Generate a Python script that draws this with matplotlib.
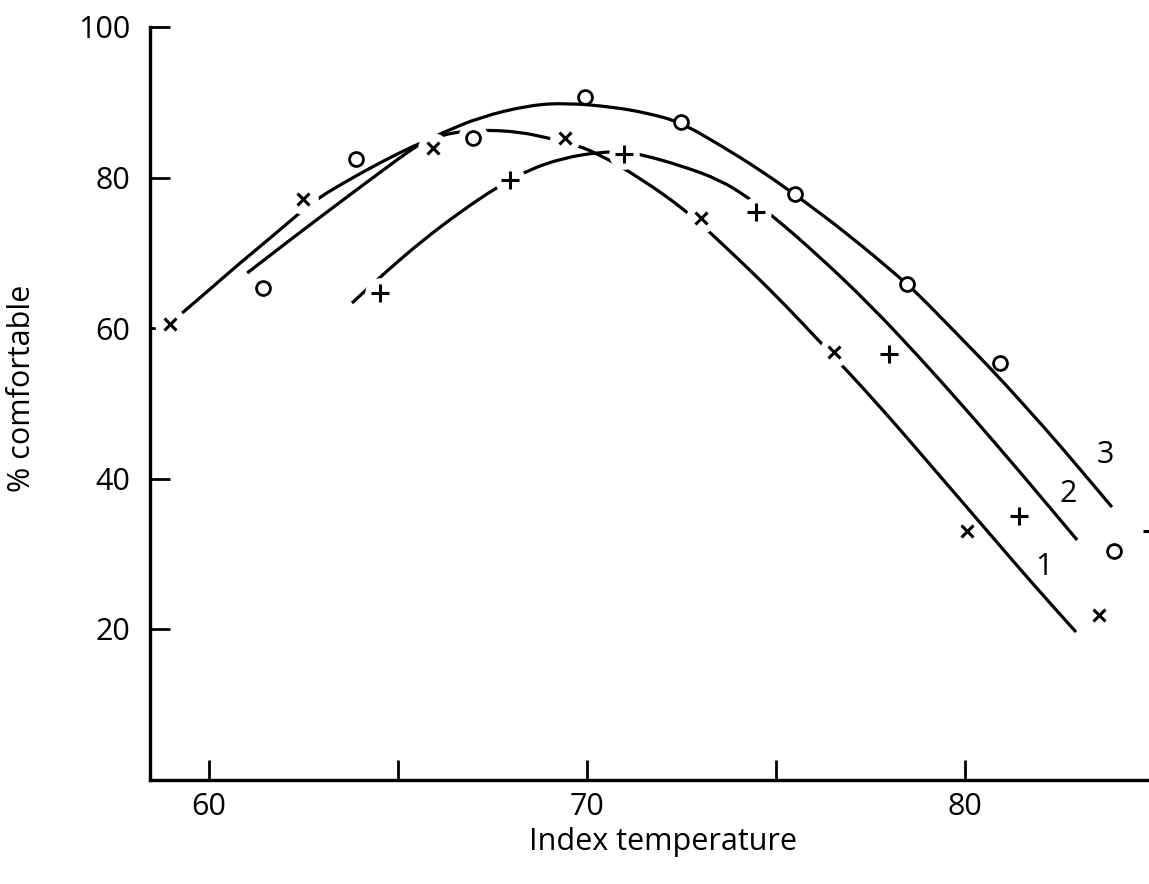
import numpy as np
import matplotlib
matplotlib.use('Agg')
import matplotlib.pyplot as plt
from matplotlib.path import Path
from matplotlib.patches import PathPatch

plt.rcParams['font.family'] = ['Open Sans', 'DejaVu Sans']

# puntos observados (x = temperatura indice, y = % comfortable)
cross_x = [58.98, 62.50, 65.93, 69.42, 73.02, 76.53, 80.05, 83.54]
cross_y = [60.53, 77.14, 83.92, 85.25, 74.62, 56.81, 33.02, 21.86]

plus_x = [64.53, 67.97, 70.98, 74.47, 77.99, 81.43, 84.94]
plus_y = [64.65, 79.67, 83.12, 75.42, 56.54, 35.02, 33.02]

circ_x = [61.44, 63.90, 66.99, 69.95, 72.49, 75.50, 78.46, 80.92, 83.93]
circ_y = [65.32, 82.46, 85.25, 90.70, 87.38, 77.81, 65.85, 55.35, 30.37]

# curvas dibujadas a mano
curve1_x = [59.30, 60.07, 60.83, 61.63, 62.37, 62.90, 63.61, 64.27, 64.93, 65.59,
            66.17, 66.78, 67.36, 68.23, 68.97, 69.55, 70.27, 71.41, 72.60, 73.24,
            74.31, 75.24, 76.19, 77.67, 79.15, 80.63, 81.79, 82.93]
curve1_y = [61.99, 65.31, 68.64, 71.96, 75.15, 77.28, 79.40, 81.26, 82.99, 84.58,
            85.65, 86.18, 86.31, 86.05, 85.25, 84.58, 83.26, 79.93, 75.68, 72.76,
            67.71, 63.06, 58.01, 50.03, 41.40, 32.76, 25.98, 19.60]

curve2_x = [63.79, 64.74, 65.67, 66.65, 67.63, 68.45, 69.37, 70.35, 71.01, 71.49,
            72.52, 73.52, 74.24, 74.92, 76.16, 77.49, 78.81, 80.13, 81.45, 82.96]
curve2_y = [63.32, 67.71, 71.69, 75.42, 78.74, 81.00, 82.59, 83.39, 83.39, 82.99,
            81.53, 79.67, 77.41, 74.88, 69.44, 63.06, 56.01, 48.57, 40.86, 31.83]

curve3_x = [61.02, 62.15, 63.13, 64.40, 65.59, 66.17, 67.18, 68.50, 69.48, 70.69,
            71.59, 72.46, 73.52, 74.58, 75.63, 76.96, 78.25, 78.70, 79.76, 80.84,
            81.72, 82.43, 83.88]
curve3_y = [67.31, 71.69, 75.42, 80.20, 84.58, 85.91, 88.04, 89.63, 89.90, 89.37,
            88.57, 87.38, 84.32, 81.00, 77.28, 72.23, 66.78, 64.78, 59.34, 53.75,
            48.84, 44.85, 36.21]

curve_labels = ['1', '2', '3']
label_x = [82.09, 82.72, 83.70]
label_y = [28.24, 37.94, 43.10]

x_ticks = [60, 65, 70, 75, 80]
x_ticklabels = ['60', '', '70', '', '80']
y_ticks = [20, 40, 60, 80, 100]

# puntos que cortan la curva que pasa por ellos
cross_gap = [0, 1, 2, 3, 4, 5, 7]
plus_gap = [0, 1, 2, 3, 4, 5, 6]
circ_gap = [2]


def smooth_path(xs, ys):
    # curva suave: los puntos leidos hacen de puntos de control (bezier cuadratica)
    pts = np.column_stack([xs, ys])
    mids = (pts[:-1] + pts[1:]) / 2
    verts = [pts[0], mids[0]]
    codes = [Path.MOVETO, Path.LINETO]
    for i in range(1, len(pts) - 1):
        verts += [pts[i], mids[i]]
        codes += [Path.CURVE3, Path.CURVE3]
    verts.append(pts[-1])
    codes.append(Path.LINETO)
    return Path(verts, codes)


fig = plt.figure(figsize=(11.49, 8.84), dpi=100)
ax = fig.add_axes([150 / 1149, (884 - 779.5) / 884, 1 - 150 / 1149, (779.5 - 27) / 884])

for cx, cy in [(curve1_x, curve1_y), (curve2_x, curve2_y), (curve3_x, curve3_y)]:
    ax.add_patch(PathPatch(smooth_path(cx, cy), facecolor='none', edgecolor='black',
                           lw=2.3, capstyle='butt', zorder=1))

# huecos blancos alrededor de los puntos
halo = dict(marker='o', ms=22, color='white', mec='none', ls='none', zorder=2)
ax.plot([cross_x[i] for i in cross_gap], [cross_y[i] for i in cross_gap], **halo)
ax.plot([plus_x[i] for i in plus_gap], [plus_y[i] for i in plus_gap], **halo)
ax.plot([circ_x[i] for i in circ_gap], [circ_y[i] for i in circ_gap], **halo)

ax.plot(cross_x, cross_y, 'x', ms=9, mew=2.2, color='black', zorder=3, ls='none')
ax.plot(plus_x, plus_y, '+', ms=13, mew=2.2, color='black', zorder=3, ls='none')
ax.plot(circ_x, circ_y, 'o', ms=10, mew=2.0, mfc='white', mec='black', zorder=3, ls='none')

for t, lx, ly in zip(curve_labels, label_x, label_y):
    ax.text(lx, ly, t, fontsize=22, ha='center', va='center')

ax.set_xlim(58.45, 84.86)
ax.set_ylim(0, 100)
ax.set_xticks(x_ticks)
ax.set_xticklabels(x_ticklabels)
ax.set_yticks(y_ticks)
ax.set_yticklabels([str(v) for v in y_ticks])

ax.spines['top'].set_visible(False)
ax.spines['right'].set_visible(False)
ax.spines['left'].set_linewidth(2.4)
ax.spines['bottom'].set_linewidth(2.4)
ax.tick_params(direction='in', length=14.5, width=2.0, labelsize=22)
ax.tick_params(axis='x', pad=9)
ax.tick_params(axis='y', pad=14)

ax.set_xlabel('Index temperature', fontsize=22)
ax.xaxis.set_label_coords(0.514, -0.063)
ax.set_ylabel('% comfortable', fontsize=22)
ax.yaxis.set_label_coords(-0.113, 0.52)

fig.savefig('out.png', dpi=100)
